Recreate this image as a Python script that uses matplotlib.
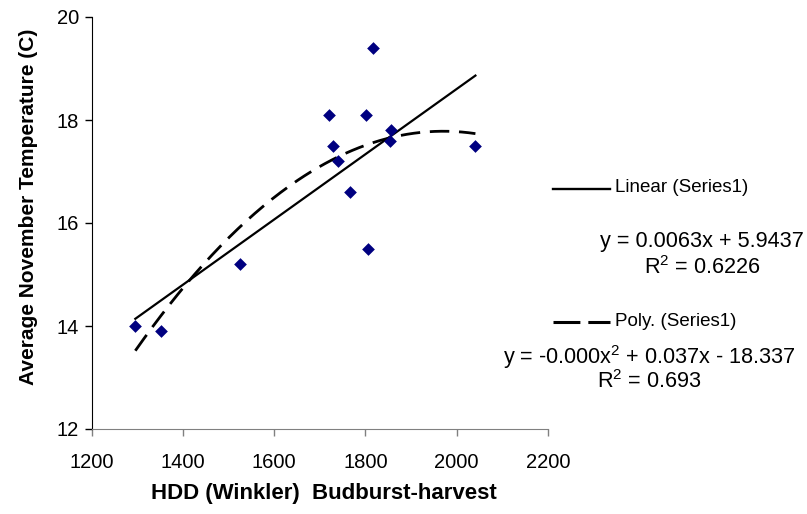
import numpy as np
import matplotlib
matplotlib.use("Agg")
import matplotlib.pyplot as plt

# Datos
hdd = [1296, 1352, 1526, 1720, 1730, 1739, 1766, 1802, 1806, 1816, 1856, 1853, 2041]
temp = [14.0, 13.9, 15.2, 18.1, 17.5, 17.2, 16.6, 18.1, 15.5, 19.4, 17.8, 17.6, 17.5]

x_ticks = [1200, 1400, 1600, 1800, 2000, 2200]
y_ticks = [12, 14, 16, 18, 20]

linear_label = "Linear (Series1)"
poly_label = "Poly. (Series1)"
linear_eq = "y = 0.0063x + 5.9437"
linear_r2 = "R$^2$ = 0.6226"
poly_eq = "y = -0.000x$^2$ + 0.037x - 18.337"
poly_r2 = "R$^2$ = 0.693"

plt.rcParams["font.family"] = ["Liberation Sans", "DejaVu Sans"]
plt.rcParams["mathtext.fontset"] = "custom"
plt.rcParams["mathtext.rm"] = "Liberation Sans"
plt.rcParams["mathtext.it"] = "Liberation Sans"

W, H = 807, 514
fig = plt.figure(figsize=(W / 100, H / 100), dpi=100)


def px(x, y):
    # pixel -> fraccion de figura
    return x / W, 1 - y / H


left, right, top, bottom = 91.5, 548, 17, 429
ax = fig.add_axes([left / W, 1 - bottom / H, (right - left) / W, (bottom - top) / H])

# Lineas de tendencia calculadas a partir de los puntos
xs = np.linspace(min(hdd), max(hdd), 200)
lin = np.polyfit(hdd, temp, 1)
pol = np.polyfit(hdd, temp, 2)
ax.plot(xs, np.polyval(lin, xs), color="black", lw=1.6, zorder=2)
dash_line, = ax.plot(xs, np.polyval(pol, xs), color="black", lw=2.0, zorder=2)
dash_line.set_dashes((7, 3.5))

ax.scatter(hdd, temp, marker="D", s=42, color="#000080", zorder=3, linewidths=0)

ax.set_xlim(1200, 2200)
ax.set_ylim(12, 20)
ax.set_xticks(x_ticks)
ax.set_yticks(y_ticks)
ax.tick_params(axis="both", labelsize=14.5, direction="out", length=5, width=1)
ax.tick_params(axis="x", color="#808080", pad=12)
ax.tick_params(axis="y", pad=4)

for s in ["top", "right"]:
    ax.spines[s].set_visible(False)
ax.spines["bottom"].set_color("#808080")
ax.spines["left"].set_color("black")

# Etiquetas de los ejes
fig.text(*px(324, 493), "HDD (Winkler)  Budburst-harvest", fontsize=16,
         fontweight="bold", ha="center", va="center")
fig.text(*px(29, 207), "Average November Temperature (C)", fontsize=15,
         fontweight="bold", ha="center", va="center", rotation=90)

# Leyenda y ecuaciones a la derecha
fig.add_artist(plt.Line2D([553 / W, 610 / W], [1 - 189 / H, 1 - 189 / H],
                          color="black", lw=1.7))
leg2 = plt.Line2D([553 / W, 610 / W], [1 - 322 / H, 1 - 322 / H],
                  color="black", lw=2.2)
leg2.set_dashes((8.8, 2.6))
fig.add_artist(leg2)
fig.text(*px(615, 188), linear_label, fontsize=13.5, ha="left", va="center")
fig.text(*px(615, 321), poly_label, fontsize=13.5, ha="left", va="center")
fig.text(*px(702, 242), linear_eq, fontsize=15.6, ha="center", va="center")
fig.text(*px(702, 268), linear_r2, fontsize=15.6, ha="center", va="center")
fig.text(*px(649, 357), poly_eq, fontsize=15.6, ha="center", va="center")
fig.text(*px(649, 382), poly_r2, fontsize=15.6, ha="center", va="center")

fig.savefig("out.png", dpi=100)
